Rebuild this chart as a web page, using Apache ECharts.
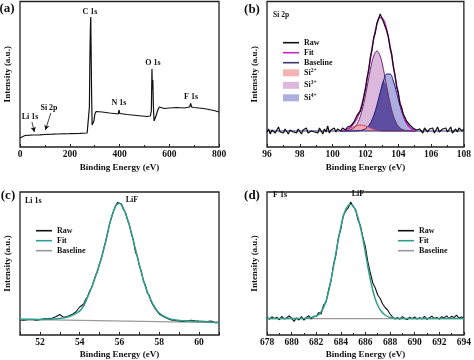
<!DOCTYPE html>
<html><head><meta charset="utf-8">
<script src="https://cdn.jsdelivr.net/npm/echarts@6/dist/echarts.min.js"></script>
<style>html,body{margin:0;padding:0;background:#fff}#c{width:474px;height:360px}</style>
</head><body><div id="c"></div>
<script>
// ---------- (a) survey ----------
const aEnergy = [0,5,20,40,52,56,62,80,98,102,106,130,148,152,156,200,240,270,276,279,281,283,284.5,286,288,290,293,297,301,306,312,330,360,395,398,401,404,430,470,510,524,528,530.5,532,534,536,539,543,548,554,560,580,600,630,660,682,686,690,700,720,750,780,800];
const aCounts = [9,11,11.5,11.8,12,13,12,12.2,12.5,14.5,12.6,12.8,13,14.5,13.1,13.3,13.6,14,16,40,90,120,130,95,50,22,20,26,33,35.5,36,35,34,33,37,33.5,33,32.5,31.5,30.5,31,36,78,58,67,42,26,27,32,37,40,38.5,39,39.5,39,40,43.5,40,39.5,39,38,36.5,35];

// ---------- (b) Si 2p ----------
const bRawStart = 96, bRawStep = 0.1;
const bRaw = [15,18,13,17,19,14,16,20,15,17,
 14,18,16,13,17,19,15,16,14,18,
 16,13,17,15,19,14,12,16,18,15,
 17,14,19,16,13,18,15,21,14,17,
 16,19,15,18,17,16,19,18,17,20,
 18,21,20,25,27,32,31,36,42,50,
 58,69,77,90,97,109,114,124,126,133,
 134,125,127,116,110,99,93,80,72,60,
 55,43,40,33,30,26,27,22,24,19,
 20,17,15,18,16,14,19,17,15,18,
 16,19,14,17,20,15,13,18,16,19,
 15,17,20,14,16,18,15,19,17,16,
 18];
const bBaseLevel = 16;
const bCompE = [100.5,100.7,100.9,101.1,101.3,101.5,101.7,101.9,102.1,102.3,102.5,102.7,102.9,103.1,103.3,103.5,103.7,103.9,104.1,104.3,104.5,104.7,104.9,105.1];
const bSi2 = [0.3,0.8,1.7,2.9,4.4,5.5,6,5.5,4.4,2.9,1.7,0.8,0.3,0,0,0,0,0,0,0,0,0,0,0];
const bSi3 = [0,0.1,0.4,1.2,3.1,7.4,15.3,27.8,44.1,61.4,74.9,80,74.9,61.4,44.1,27.8,15.3,7.4,3.1,1.2,0.4,0.1,0,0];
const bSi4 = [0,0,0,0,0,0.1,0.5,1.4,3.6,7.8,15.2,25.8,38.4,50,57,57,50,38.4,25.8,15.2,7.8,3.6,1.4,0.5];
const bFit = [0.3,0.9,2.1,4.1,7.6,13,21.8,34.7,52.1,72.1,91.8,106.6,113.6,111.4,101.1,84.8,65.3,45.8,28.9,16.4,8.2,3.7,1.4,0.5];

// ---------- (c) Li 1s ----------
const cRawStart = 51, cRawStep = 0.1;
const cRaw = [15,16.5,14.8,16,15.2,17,15.5,16.2,14.9,16.8,
 15.4,17.2,16.1,17.5,16.3,18,16.8,17.3,18.2,19.4,
 20.5,19,17.6,18.3,18.8,19.5,20.4,21.5,23,24.5,
 28,27.5,31,35.5,38.5,44,47.5,53.5,59.5,64,
 71.5,77,86,93,101.5,111,117.5,124,129,132.5,
 130.5,131,125.5,122.5,115,110,101,94.5,83,78.5,
 69,63.5,54,50,42,39.5,33,31,26,25.5,
 21,22.5,18.5,19.5,16.5,18,15,16.8,14.5,16.2,
 14,15.8,13.6,15.5,14.2,13.1,14.8,12.9,14.3,13.2,
 14,12.6,13.8,12.5,13.5,12.2,13.9,12.8,12.4,13.5,
 12.6];
const cFitE = [51,51.5,52,52.5,53,53.4,53.8,54.1,54.4,54.7,55.0,55.2,55.4,55.6,55.8,55.9,56.0,56.2,56.4,56.6,56.8,57.0,57.2,57.4,57.6,57.8,58.0,58.3,58.6,59,59.5,60,60.5,61];
const cFit = [15.8,15.7,15.6,15.7,16.5,18,21.5,26,38,53,71,85,102,118,128.5,131,131.5,126.5,116,102,86,70,55,43,34,27,22,18,15.8,14.6,13.9,13.4,13,12.4];
const cBaseE = [51,61];
const cBase = [15.7,12.3];

// ---------- (d) F 1s ----------
const dRawStart = 678, dRawStep = 0.2;
const dRaw = [17.5,15.8,18.2,16.4,17.9,15.2,18.6,16.1,17.3,19,
 16.8,13.5,17.2,15,18.5,14.8,17.6,19.2,16.2,18.8,
 18.5,22.5,21,30,33,45,54,70,80,97,
 106,119.5,124,127,133,128.5,125.5,115,109,97.5,
 88,73,62,52,47,40,36.5,31,27.5,25,
 21,18.2,16,17.5,15.8,18.4,16.6,15.5,17.8,16.3,
 18,15.9,17.4,16.1,18.6,15.7,17.2,18.9,16.4,17.6,
 16,18.3,17.1,19.2,16.5,18.7,17.4,19.8,16.9,18.1,
 17.2];
const dFitE = [678,680,681,681.5,682,682.3,682.6,682.9,683.2,683.5,683.8,684.0,684.2,684.4,684.6,684.8,685.0,685.2,685.4,685.6,685.8,686.0,686.2,686.4,686.6,686.8,687.0,687.3,687.6,688.0,688.5,689,694];
const dFit = [16.5,16.5,16.6,17.2,19,21.5,27.5,38,55,75,96,108,118.5,125.5,129.5,130.5,129,124.5,117,107,96,82,68,55.5,44.5,36,29.5,23.5,20,17.5,16.6,16.5,16.5];
const dBaseE = [678,694];
const dBase = [16.4,16.4];

// ---------- helpers ----------
const FONT = 'Liberation Serif';
const pairs = (xs, ys, add) => xs.map((x, i) => [x, ys[i] + (add || 0)]);
const even = (start, step, ys) => ys.map((y, i) => [Math.round((start + i * step) * 1000) / 1000, y]);

const gridBox = (left, top, width, height) => ({left, top, width, height, show: true, borderColor: '#222', borderWidth: 1.3, backgroundColor: 'transparent'});
const xAx = (gi, min, max, interval, gap, fmt, minor) => ({
  type: 'value', gridIndex: gi, min, max, interval,
  axisLine: {show: false},
  axisTick: {show: true, inside: true, length: 3, lineStyle: {color: '#222', width: 1}},
  minorTick: {show: !!minor, splitNumber: 2, length: 2, lineStyle: {color: '#222', width: 1}},
  splitLine: {show: false}, minorSplitLine: {show: false},
  axisLabel: {show: true, margin: 3, color: '#111', fontFamily: FONT, fontWeight: 'bold', fontSize: 9.5, showMinLabel: true, showMaxLabel: true, formatter: fmt},
  name: 'Binding Energy (eV)', nameLocation: 'middle', nameGap: gap,
  nameTextStyle: {color: '#111', fontFamily: FONT, fontWeight: 'bold', fontSize: 9}
});
const yAx = (gi, max) => ({
  type: 'value', gridIndex: gi, min: 0, max,
  axisLine: {show: false}, axisTick: {show: false}, axisLabel: {show: false}, splitLine: {show: false},
  name: 'Intensity (a.u.)', nameLocation: 'middle', nameRotate: 90, nameGap: 8,
  nameTextStyle: {color: '#111', fontFamily: FONT, fontWeight: 'bold', fontSize: 9}
});
const line = (name, gi, data, color, width, extra) => Object.assign({
  name, type: 'line', xAxisIndex: gi, yAxisIndex: gi, data, symbol: 'none', showSymbol: false,
  lineStyle: {color, width}, itemStyle: {color}, animation: false, silent: true
}, extra || {});

const overlap = bSi3.map((v, i) => Math.min(v, bSi4[i]));

const labelText = {bRaw: 'Raw', bFit: 'Fit', bBase: 'Baseline', cRaw: 'Raw', cFit: 'Fit', cBase: 'Baseline', dRaw: 'Raw', dFit: 'Fit', dBase: 'Baseline',
  bSi2: '{m|Si}{s|2+}', bSi3: '{m|Si}{s|3+}', bSi4: '{m|Si}{s|4+}'};
const legendText = {color: '#111', fontFamily: FONT, fontWeight: 'bold', fontSize: 8, lineHeight: 10,
  rich: {m: {fontFamily: FONT, fontWeight: 'bold', fontSize: 8, color: '#111', lineHeight: 10}, s: {fontFamily: FONT, fontWeight: 'bold', fontSize: 5.5, color: '#111', padding: [0, 0, 5, 0]}}};
const lg = (left, top, data, ih, gap) => ({orient: 'vertical', left, top, padding: 0, itemWidth: 16, itemHeight: ih, itemGap: gap,
  selectedMode: false, data, formatter: n => labelText[n], textStyle: legendText});
const lineItem = (name, color) => ({name, icon: 'rect', itemStyle: {color, borderWidth: 0}});

const txt = (text, x, y, size, align) => ({type: 'text', x, y, silent: true,
  style: {text, x: 0, y: 0, fill: '#111', font: 'bold ' + size + 'px "' + FONT + '"', textAlign: align || 'center', textVerticalAlign: 'middle'}});

const option = {
  animation: false,
  backgroundColor: '#fff',
  grid: [gridBox(20, 1.5, 199, 145.5), gridBox(267, 1.5, 199, 145.5), gridBox(20, 192, 199, 143), gridBox(267, 192, 200, 143)],
  xAxis: [
    xAx(0, 0, 800, 200, 16, null, true),
    xAx(1, 96, 108, 2, 16, null, true),
    xAx(2, 51, 61, 1, 15, v => (v % 2 === 0 ? String(v) : ''), false),
    xAx(3, 678, 694, 2, 15, null, true)
  ],
  yAxis: [yAx(0, 145.5), yAx(1, 145.5), yAx(2, 143), yAx(3, 143)],
  legend: [
    lg(283, 37.7, [lineItem('bRaw', '#111'), lineItem('bFit', '#cc22cc'), lineItem('bBase', '#3a3a6a')], 1.6, 0),
    lg(283, 67.3, [
      {name: 'bSi2', icon: 'rect', itemStyle: {color: '#f6b3b3', borderWidth: 0}},
      {name: 'bSi3', icon: 'rect', itemStyle: {color: '#dcb9dc', borderWidth: 0}},
      {name: 'bSi4', icon: 'rect', itemStyle: {color: '#adaee0', borderWidth: 0}}], 7, 2),
    lg(36, 225.7, [lineItem('cRaw', '#111'), lineItem('cFit', '#2e9e8e'), lineItem('cBase', '#9a9a9a')], 1.6, 0),
    lg(398, 225.7, [lineItem('dRaw', '#111'), lineItem('dFit', '#2e9e8e'), lineItem('dBase', '#9a9a9a')], 1.6, 0)
  ],
  series: [
    line('aRaw', 0, pairs(aEnergy, aCounts), '#111', 1.2, {
      markLine: {silent: true, symbol: ['none', 'arrow'], symbolSize: [4, 5], animation: false,
        lineStyle: {color: '#111', width: 0.8, type: 'solid'}, label: {show: false},
        data: [[{coord: [48, 25]}, {coord: [58, 15]}], [{coord: [124, 34]}, {coord: [102, 17]}]]}
    }),
    // Si 2p components (fills)
    line('bSi3', 1, pairs(bCompE, bSi3, bBaseLevel), '#dcb9dc', 0, {smooth: 0.4, areaStyle: {color: '#dcb9dc', opacity: 1, origin: bBaseLevel}, lineStyle: {width: 0, opacity: 0}}),
    line('bSi4', 1, pairs(bCompE, bSi4, bBaseLevel), '#adaee0', 0, {smooth: 0.4, areaStyle: {color: '#adaee0', opacity: 1, origin: bBaseLevel}, lineStyle: {width: 0, opacity: 0}}),
    line('bOver', 1, pairs(bCompE, overlap, bBaseLevel), '#5e4ea2', 0, {smooth: 0.4, areaStyle: {color: '#5e4ea2', opacity: 1, origin: bBaseLevel}, lineStyle: {width: 0, opacity: 0}}),
    line('bSi2', 1, pairs(bCompE, bSi2, bBaseLevel), '#f6b3b3', 0, {smooth: 0.4, areaStyle: {color: '#f4a6a6', opacity: 0.85, origin: bBaseLevel}, lineStyle: {width: 0, opacity: 0}}),
    // outlines
    line('bSi3o', 1, pairs(bCompE, bSi3, bBaseLevel), '#6b2a6b', 1, {smooth: 0.4}),
    line('bSi4o', 1, pairs(bCompE, bSi4, bBaseLevel), '#1c1c78', 1, {smooth: 0.4}),
    line('bSi2o', 1, pairs(bCompE, bSi2, bBaseLevel), '#cc4466', 1, {smooth: 0.4}),
    line('bBase', 1, [[96, bBaseLevel], [108, bBaseLevel]], '#2a2a7a', 1),
    line('bFit', 1, pairs(bCompE, bFit, bBaseLevel), '#cc22cc', 1.5, {smooth: 0.4}),
    line('bRaw', 1, even(bRawStart, bRawStep, bRaw), '#111', 1.2),
    // Li 1s
    line('cBase', 2, pairs(cBaseE, cBase), '#9a9a9a', 1.2),
    line('cRaw', 2, even(cRawStart, cRawStep, cRaw), '#111', 1.1),
    line('cFit', 2, pairs(cFitE, cFit), '#2e9e8e', 1.5, {smooth: 0.4}),
    // F 1s
    line('dBase', 3, pairs(dBaseE, dBase), '#9a9a9a', 1.2),
    line('dRaw', 3, even(dRawStart, dRawStep, dRaw), '#111', 1.1),
    line('dFit', 3, pairs(dFitE, dFit), '#2e9e8e', 1.5, {smooth: 0.4})
  ],
  graphic: [
    txt('(a)', 7, 9, 13), txt('(b)', 252, 10, 13), txt('(c)', 8, 196, 13), txt('(d)', 252, 196, 13),
    txt('C 1s', 90, 12, 8), txt('O 1s', 153, 63, 8), txt('N 1s', 119, 103, 8), txt('F 1s', 191, 97, 8),
    txt('Si 2p', 49, 108, 8), txt('Li 1s', 30, 117, 8),
    txt('Si 2p', 273, 15, 7.5, 'left'),
    txt('Li 1s', 25, 201, 8, 'left'), txt('LiF', 132, 200, 8),
    txt('F 1s', 273, 195, 8, 'left'), txt('LiF', 358, 194, 8)
  ]
};
const chart = echarts.init(document.getElementById('c'), null, {renderer: 'canvas'});
chart.setOption(option);
</script>
</body></html>
